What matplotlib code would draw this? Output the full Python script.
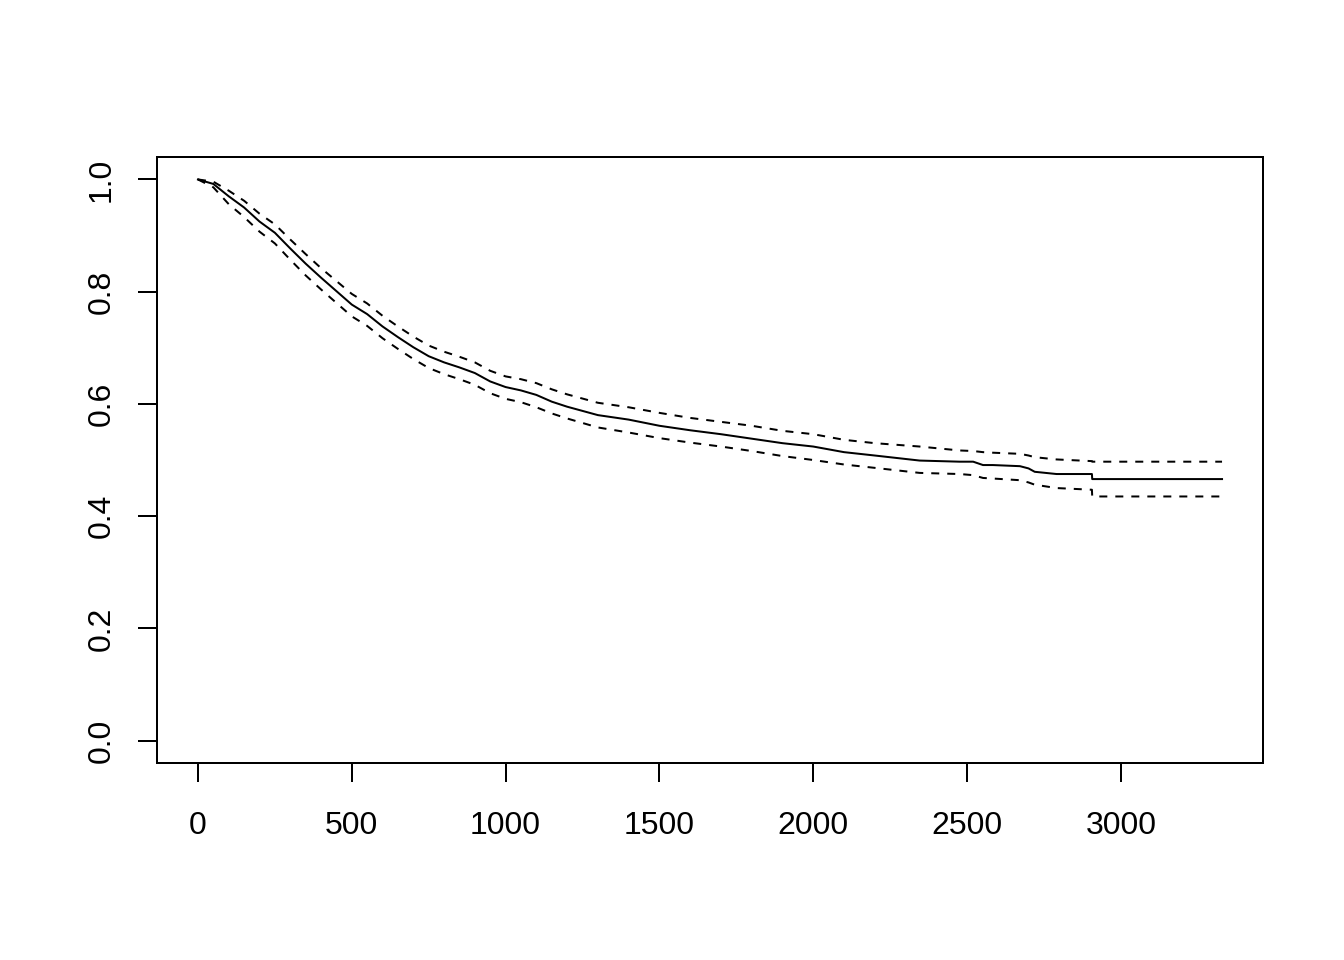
import matplotlib
matplotlib.use("Agg")
import matplotlib.pyplot as plt

time = [0, 50, 100, 150, 200, 250, 300, 350, 400, 450, 500, 550, 600, 650, 700, 750,
        800, 850, 900, 950, 1000, 1050, 1100, 1150, 1200, 1300, 1400, 1500, 1600, 1700,
        1800, 1900, 2000, 2100, 2200, 2346, 2476, 2520, 2552, 2584, 2672, 2700, 2720,
        2791, 2906, 2907, 3329]
surv = [1.000, 0.992, 0.970, 0.950, 0.925, 0.905, 0.877, 0.850, 0.825, 0.801,
        0.777, 0.760, 0.738, 0.719, 0.701, 0.685, 0.674, 0.665, 0.655, 0.640,
        0.630, 0.624, 0.616, 0.604, 0.595, 0.580, 0.572, 0.561, 0.553, 0.546,
        0.538, 0.530, 0.524, 0.514, 0.508, 0.499, 0.497, 0.497, 0.491, 0.491,
        0.489, 0.485, 0.479, 0.475, 0.475, 0.466, 0.466]
upper = [1.000, 0.996, 0.980, 0.962, 0.939, 0.920, 0.893, 0.867, 0.842, 0.819,
         0.796, 0.779, 0.757, 0.738, 0.720, 0.704, 0.693, 0.684, 0.674, 0.659,
         0.649, 0.644, 0.637, 0.626, 0.617, 0.602, 0.594, 0.584, 0.575, 0.568,
         0.561, 0.552, 0.546, 0.536, 0.530, 0.524, 0.517, 0.516, 0.514, 0.513,
         0.511, 0.508, 0.505, 0.501, 0.498, 0.497, 0.497]
lower = [1.000, 0.986, 0.956, 0.933, 0.907, 0.886, 0.857, 0.829, 0.804, 0.780,
         0.756, 0.739, 0.717, 0.698, 0.680, 0.664, 0.653, 0.644, 0.634, 0.619,
         0.609, 0.603, 0.594, 0.583, 0.574, 0.558, 0.549, 0.539, 0.531, 0.524,
         0.516, 0.507, 0.500, 0.492, 0.486, 0.477, 0.475, 0.473, 0.468, 0.467,
         0.464, 0.460, 0.456, 0.450, 0.447, 0.435, 0.435]
xticks = [0, 500, 1000, 1500, 2000, 2500, 3000]
yticks = [0.0, 0.2, 0.4, 0.6, 0.8, 1.0]

plt.rcParams['font.family'] = ['Liberation Sans', 'DejaVu Sans']
fig = plt.figure(figsize=(13.44, 9.6), dpi=100)
ax = fig.add_axes([157/1344, 1-763/960, (1263-157)/1344, (763-157)/960])

LW = 1.44
ax.plot(time, surv, color='black', lw=LW)
ax.plot(time, upper, color='black', lw=LW, linestyle=(0, (4, 4)))
ax.plot(time, lower, color='black', lw=LW, linestyle=(0, (4, 4)))

xmax = max(time)
ax.set_xlim(-0.04 * xmax, 1.04 * xmax)
ax.set_ylim(-0.04, 1.04)

ax.set_xticks(xticks)
ax.set_xticklabels([str(v) for v in xticks])
ax.set_yticks(yticks)
ax.set_yticklabels([f"{v:.1f}" for v in yticks], rotation=90, va='center')

for s in ax.spines.values():
    s.set_linewidth(LW)
ax.tick_params(axis='both', direction='out', length=13.8, width=LW,
               labelsize=23, top=False, right=False)
ax.tick_params(axis='x', pad=20.5)
ax.tick_params(axis='y', pad=15)

fig.savefig("out.png", dpi=100)
